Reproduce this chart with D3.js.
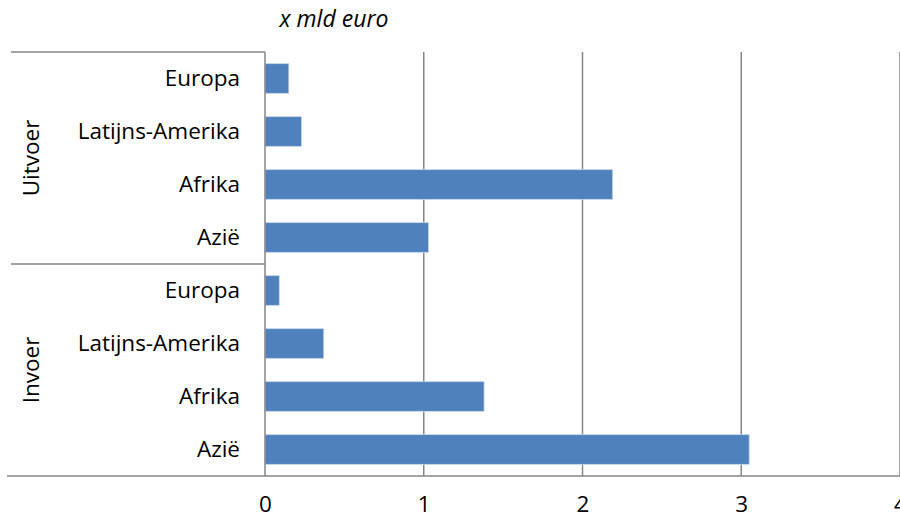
<!DOCTYPE html>
<html>
<head>
<meta charset="utf-8">
<script src="https://cdn.jsdelivr.net/npm/d3@7"></script>
<style>
  html, body { margin: 0; padding: 0; background: #fff; }
  svg { display: block; font-family: 'Open Sans', 'Noto Sans', sans-serif; }
</style>
</head>
<body>
<div id="chart"></div>
<script>
'use strict'

// data (x mld euro)
const regions = ['Europa', 'Latijns-Amerika', 'Afrika', 'Azië']
const groups = ['Uitvoer', 'Invoer']
const uitvoer = [0.15, 0.23, 2.19, 1.03]
const invoer = [0.09, 0.37, 1.38, 3.05]
const xTicks = [0, 1, 2, 3, 4]
const unitLabel = 'x mld euro'

const width = 900
const height = 519
const gray = '#868686'
const barColor = '#4f81bd'
const fontSize = '22.5px'

// rows from top to bottom
const rows = []
regions.forEach((r, i) => rows.push({ group: groups[0], region: r, value: uitvoer[i] }))
regions.forEach((r, i) => rows.push({ group: groups[1], region: r, value: invoer[i] }))
rows.forEach((d, i) => { d.key = i })

const svg = d3.select('#chart')
  .append('svg')
  .attr('width', width)
  .attr('height', height)

const x = d3.scaleLinear()
  .domain([0, 4])
  .range([265, 900])

const y = d3.scaleBand()
  .domain(rows.map(d => d.key))
  .range([52, 476])
  .paddingInner(0.44)
  .paddingOuter(0.22)

const yTop = y.range()[0]
const yBottom = y.range()[1]

// vertical gridlines
svg.append('g')
  .selectAll('line')
  .data(xTicks.filter(t => t > 0))
  .join('line')
  .attr('x1', d => x(d))
  .attr('x2', d => x(d))
  .attr('y1', yTop)
  .attr('y2', yBottom)
  .attr('stroke', gray)
  .attr('stroke-width', 1.5)

// bars
svg.append('g')
  .selectAll('rect')
  .data(rows)
  .join('rect')
  .attr('x', x(0))
  .attr('y', d => y(d.key))
  .attr('width', d => x(d.value) - x(0))
  .attr('height', y.bandwidth())
  .attr('fill', barColor)
  .attr('stroke', '#c9d7ec')
  .attr('stroke-width', 0.8)

// category axis line and group brackets
const groupEdge = y.step() * regions.length + yTop
svg.append('line')
  .attr('x1', x(0)).attr('x2', x(0))
  .attr('y1', yTop).attr('y2', yBottom)
  .attr('stroke', gray).attr('stroke-width', 1.5)
svg.append('g')
  .selectAll('line')
  .data([yTop, groupEdge])
  .join('line')
  .attr('x1', 11).attr('x2', x(0))
  .attr('y1', d => d).attr('y2', d => d)
  .attr('stroke', gray).attr('stroke-width', 1.5)

// value axis
const xAxis = svg.append('g')
  .attr('transform', 'translate(0,' + yBottom + ')')
  .call(d3.axisBottom(x).tickValues(xTicks).tickFormat(d3.format('d')).tickSize(0).tickPadding(20))
xAxis.select('.domain').remove()
xAxis.append('line')
  .attr('x1', 7).attr('x2', width)
  .attr('stroke', gray).attr('stroke-width', 1.5)
xAxis.selectAll('text')
  .attr('fill', '#000')
  .style('font-size', fontSize)
  .style('font-family', "'Open Sans', sans-serif")

// region labels
svg.append('g')
  .selectAll('text')
  .data(rows)
  .join('text')
  .attr('x', 240)
  .attr('y', d => y(d.key) + y.bandwidth() / 2)
  .attr('dy', '0.35em')
  .attr('text-anchor', 'end')
  .style('font-size', fontSize)
  .text(d => d.region)

// group labels, rotated
svg.append('g')
  .selectAll('text')
  .data(groups)
  .join('text')
  .attr('transform', (d, i) => {
    const cy = i === 0 ? (yTop + groupEdge) / 2 : (groupEdge + yBottom) / 2
    return 'translate(39,' + cy + ') rotate(-90)'
  })
  .attr('text-anchor', 'middle')
  .style('font-size', fontSize)
  .text(d => d)

// unit label
svg.append('text')
  .attr('x', 334)
  .attr('y', 27)
  .attr('text-anchor', 'middle')
  .style('font-size', '23px')
  .style('font-style', 'italic')
  .text(unitLabel)
</script>
</body>
</html>
